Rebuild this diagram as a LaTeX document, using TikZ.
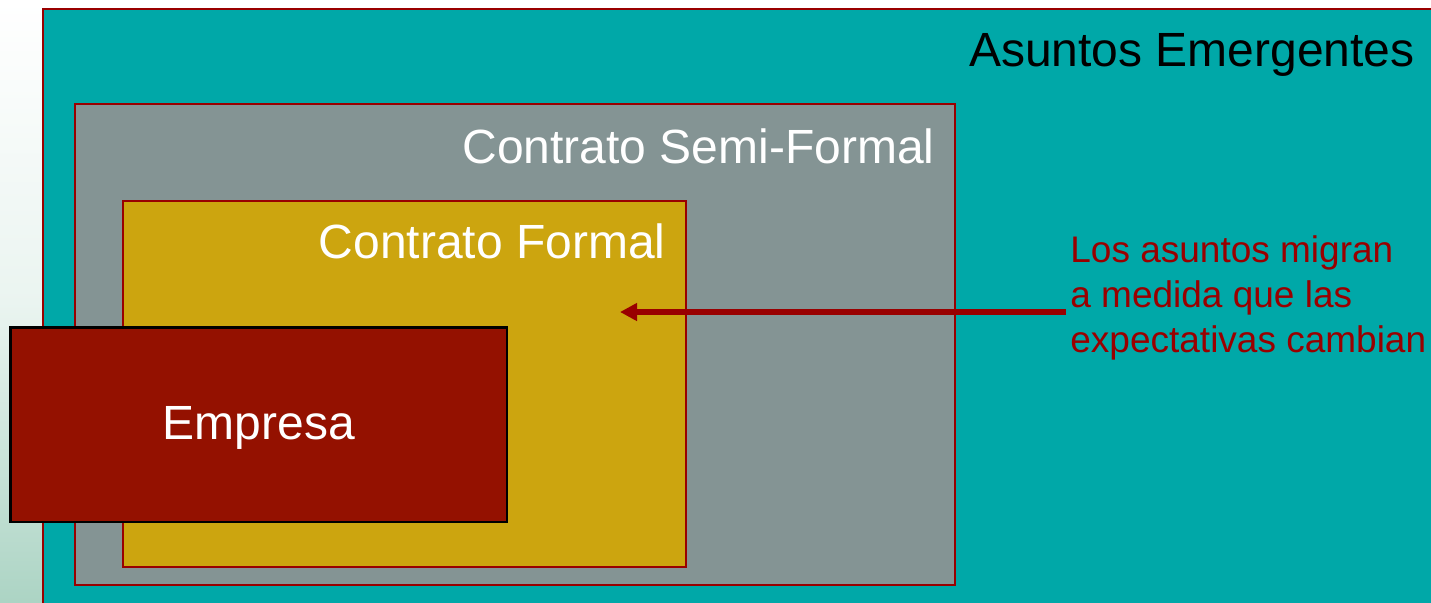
\documentclass[tikz,border=0pt]{standalone}
\usepackage{fontspec}
\setmainfont{Liberation Sans}
\usepackage{xcolor}
\usepackage{tikz}
\usetikzlibrary{arrows.meta}
\usetikzlibrary{fit}
\definecolor{tealbg}{RGB}{0,168,168}
\definecolor{slategray}{RGB}{132,148,148}
\definecolor{goldfill}{RGB}{204,165,15}
\definecolor{firmred}{RGB}{148,17,0}
\definecolor{edgered}{RGB}{153,0,0}
\definecolor{paleside}{RGB}{172,212,196}
\tikzstyle{region}=[draw=edgered,line width=1pt,inner sep=0pt]
\tikzstyle{title}=[text=white,font=\fontsize{24}{28}\selectfont,inner sep=0pt]
\tikzstyle{note}=[text=edgered,font=\fontsize{18.5}{22.5}\selectfont,align=left,inner sep=0pt]
\tikzstyle{migrate}=[draw=edgered,line width=2.8pt,-{Triangle[length=8.5pt,width=8.5pt]}]

\begin{document}
\begin{tikzpicture}[x=0.5pt,y=-0.5pt]
    \useasboundingbox (0,0) rectangle (1431,602);
    \clip (0,0) rectangle (1431,602);
    \shade[top color=white,bottom color=paleside,middle color=white!75!paleside] (0,0) rectangle (1431,602);
    % nested regions
    \node[region,fill=tealbg,fit={(42.5,8.5) (1445,615)}] (emergentes) {};
    \node[region,fill=slategray,fit={(75,104) (955,585)}] (semiformal) {};
    \node[region,fill=goldfill,fit={(122.5,200.5) (686,567)}] (formal) {};
    \node[draw=black,line width=1.2pt,fill=firmred,inner sep=0pt,fit={(10.5,327.5) (507,522)}] (empresa) {};
    % labels
    \node[title,text=black,anchor=base east] (lblemergentes) at (1415,66) {Asuntos Emergentes};
    \node[title,anchor=base east] (lblsemiformal) at (935,163) {Contrato Semi-Formal};
    \node[title,anchor=base east] (lblformal) at (666,258) {Contrato Formal};
    \node[title] (lblempresa) at (259,428) {Empresa};
    \node[note,anchor=north west] (migran) at (1070,235) {Los asuntos migran\\a medida que las\\expectativas cambian};
    % arrow
    \coordinate (migstart) at (1066,312);
    \coordinate (migtip) at (620,312);
    \path[migrate] (migstart) -- (migtip);
\end{tikzpicture}
\end{document}
